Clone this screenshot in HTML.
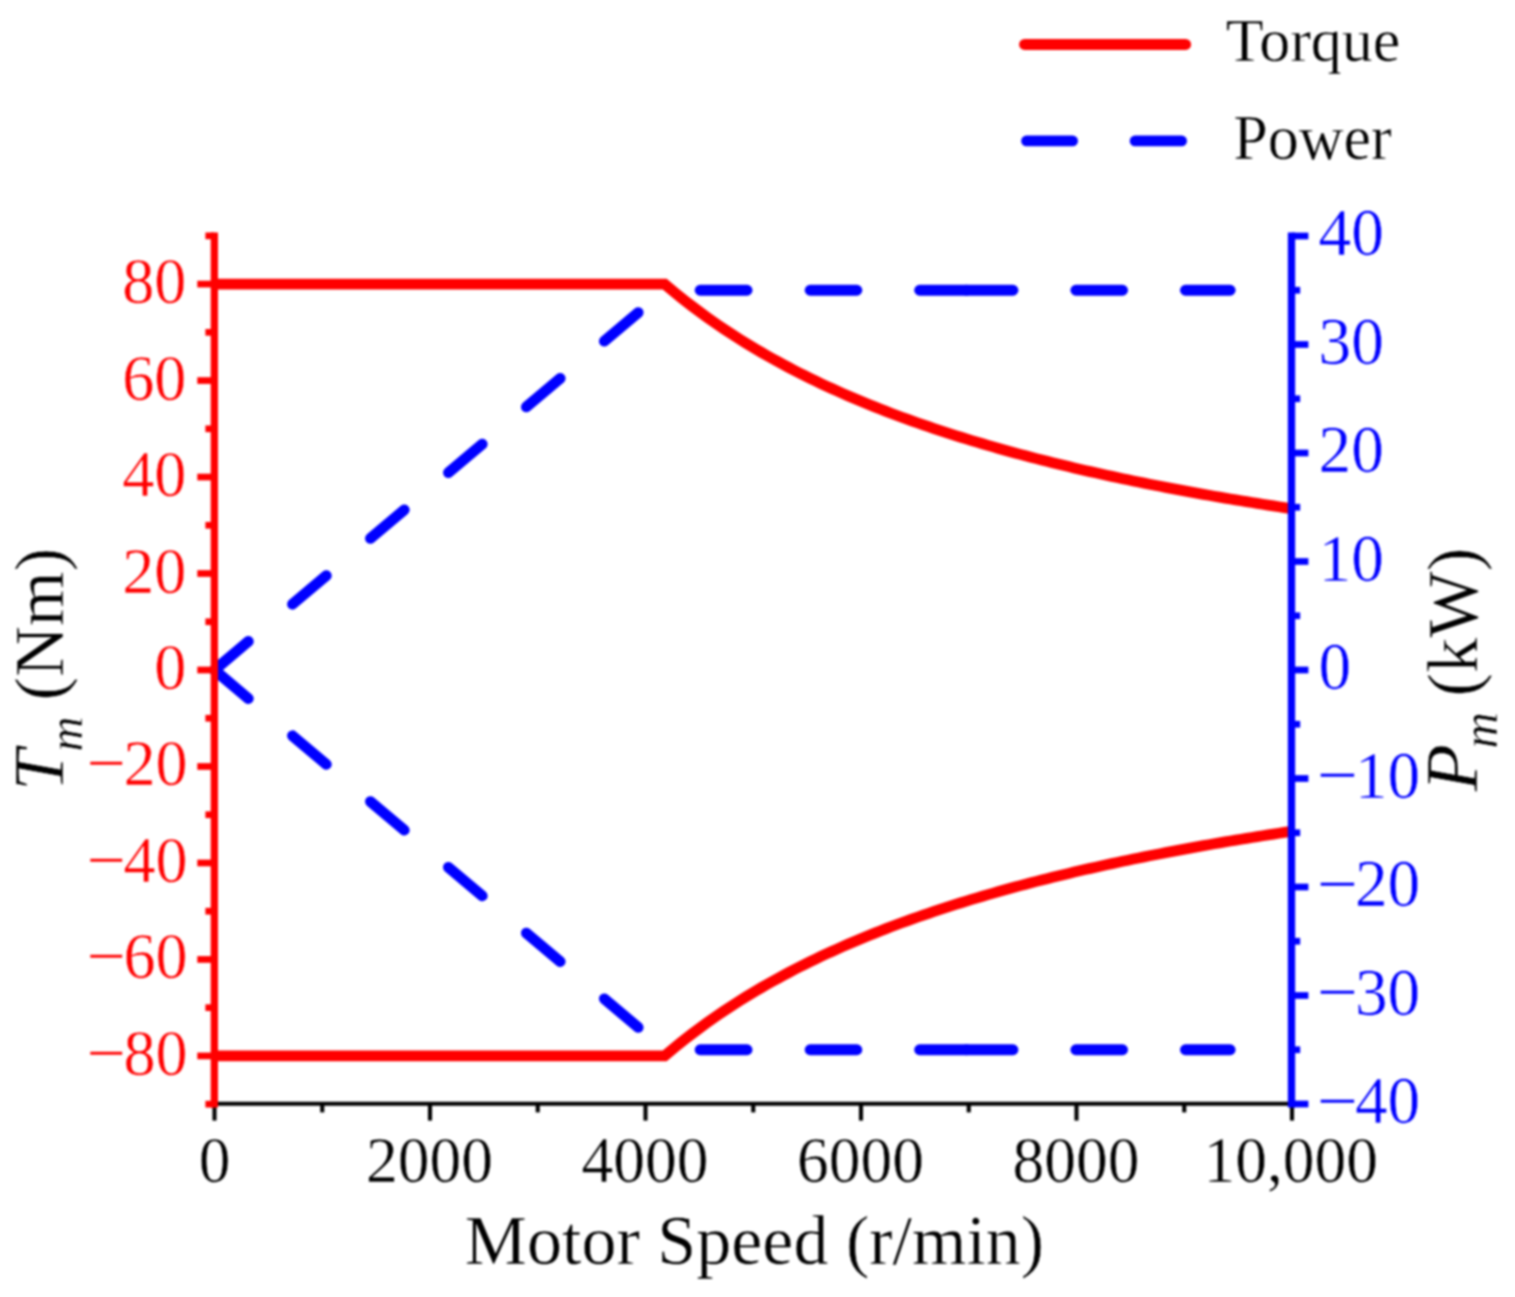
<!DOCTYPE html>
<html lang="en"><head><meta charset="utf-8"><title>Motor torque and power</title>
<style>html,body{margin:0;padding:0;background:#fff}svg{display:block;filter:blur(0.8px)}text{font-family:"Liberation Serif","Times New Roman",serif;stroke:#fff;stroke-width:0.5px;stroke-linejoin:round}</style></head><body>
<svg width="1515" height="1297" viewBox="0 0 1515 1297">
<rect width="1515" height="1297" fill="#fff"/>
<g>
<g stroke="#0000ff" stroke-width="10.8" stroke-linecap="round" fill="none">
<line x1="214.5" y1="670" x2="248.36" y2="641.44"/>
<line x1="292.47" y1="604.23" x2="326.33" y2="575.67"/>
<line x1="370.43" y1="538.46" x2="404.29" y2="509.9"/>
<line x1="448.4" y1="472.7" x2="482.26" y2="444.13"/>
<line x1="526.36" y1="406.93" x2="560.22" y2="378.36"/>
<line x1="604.33" y1="341.16" x2="638.19" y2="312.6"/>
<line x1="700.1" y1="290.25" x2="747.1" y2="290.25"/>
<line x1="810.1" y1="290.25" x2="856.9" y2="290.25"/>
<line x1="919.6" y1="290.25" x2="966.6" y2="290.25"/>
<line x1="966.2" y1="290.25" x2="1013" y2="290.25"/>
<line x1="1075.8" y1="290.25" x2="1122.6" y2="290.25"/>
<line x1="1185.4" y1="290.25" x2="1230.2" y2="290.25"/>
<line x1="214.5" y1="670" x2="248.36" y2="698.56"/>
<line x1="292.47" y1="735.77" x2="326.33" y2="764.33"/>
<line x1="370.43" y1="801.54" x2="404.29" y2="830.1"/>
<line x1="448.4" y1="867.3" x2="482.26" y2="895.87"/>
<line x1="526.36" y1="933.07" x2="560.22" y2="961.64"/>
<line x1="604.33" y1="998.84" x2="638.19" y2="1027.4"/>
<line x1="700.1" y1="1049.75" x2="747.1" y2="1049.75"/>
<line x1="810.1" y1="1049.75" x2="856.9" y2="1049.75"/>
<line x1="919.6" y1="1049.75" x2="966.6" y2="1049.75"/>
<line x1="966.2" y1="1049.75" x2="1013" y2="1049.75"/>
<line x1="1075.8" y1="1049.75" x2="1122.6" y2="1049.75"/>
<line x1="1185.4" y1="1049.75" x2="1230.2" y2="1049.75"/>
</g>
<polyline fill="none" stroke="#ff0000" stroke-width="10.8" stroke-linejoin="miter" points="214.5,284.08 664.68,284.08 670.07,288.64 675.45,293.1 680.84,297.46 686.23,301.71 691.62,305.87 697,309.93 702.39,313.91 707.78,317.8 713.17,321.6 718.55,325.33 723.94,328.97 729.33,332.54 734.72,336.04 740.1,339.46 745.49,342.81 750.88,346.1 756.27,349.32 761.65,352.48 767.04,355.57 772.43,358.61 777.82,361.59 783.2,364.51 788.59,367.38 793.98,370.19 799.37,372.95 804.75,375.66 810.14,378.33 815.53,380.94 820.92,383.51 826.3,386.03 831.69,388.51 837.08,390.95 842.47,393.34 847.85,395.69 853.24,398.01 858.63,400.28 864.02,402.52 869.4,404.72 874.79,406.88 880.18,409.01 885.57,411.11 890.95,413.17 896.34,415.2 901.73,417.2 907.12,419.16 912.5,421.1 917.89,423.01 923.28,424.88 928.67,426.73 934.05,428.55 939.44,430.35 944.83,432.12 950.22,433.86 955.6,435.58 960.99,437.27 966.38,438.93 971.77,440.58 977.15,442.2 982.54,443.8 987.93,445.37 993.32,446.93 998.7,448.46 1004.09,449.97 1009.48,451.46 1014.87,452.93 1020.25,454.38 1025.64,455.82 1031.03,457.23 1036.42,458.62 1041.8,460 1047.19,461.36 1052.58,462.7 1057.97,464.02 1063.35,465.33 1068.74,466.62 1074.13,467.9 1079.52,469.16 1084.9,470.4 1090.29,471.63 1095.68,472.84 1101.07,474.04 1106.45,475.22 1111.84,476.39 1117.23,477.55 1122.62,478.69 1128,479.82 1133.39,480.93 1138.78,482.03 1144.17,483.12 1149.55,484.2 1154.94,485.26 1160.33,486.32 1165.72,487.36 1171.1,488.39 1176.49,489.4 1181.88,490.41 1187.27,491.4 1192.65,492.39 1198.04,493.36 1203.43,494.32 1208.82,495.27 1214.2,496.22 1219.59,497.15 1224.98,498.07 1230.37,498.98 1235.75,499.88 1241.14,500.78 1246.53,501.66 1251.92,502.53 1257.3,503.4 1262.69,504.25 1268.08,505.1 1273.47,505.94 1278.85,506.77 1284.24,507.59 1289.63,508.41 1292,508.76"/>
<polyline fill="none" stroke="#ff0000" stroke-width="10.8" stroke-linejoin="miter" points="214.5,1055.92 664.68,1055.92 670.07,1051.36 675.45,1046.9 680.84,1042.54 686.23,1038.29 691.62,1034.13 697,1030.07 702.39,1026.09 707.78,1022.2 713.17,1018.4 718.55,1014.67 723.94,1011.03 729.33,1007.46 734.72,1003.96 740.1,1000.54 745.49,997.19 750.88,993.9 756.27,990.68 761.65,987.52 767.04,984.43 772.43,981.39 777.82,978.41 783.2,975.49 788.59,972.62 793.98,969.81 799.37,967.05 804.75,964.34 810.14,961.67 815.53,959.06 820.92,956.49 826.3,953.97 831.69,951.49 837.08,949.05 842.47,946.66 847.85,944.31 853.24,941.99 858.63,939.72 864.02,937.48 869.4,935.28 874.79,933.12 880.18,930.99 885.57,928.89 890.95,926.83 896.34,924.8 901.73,922.8 907.12,920.84 912.5,918.9 917.89,916.99 923.28,915.12 928.67,913.27 934.05,911.45 939.44,909.65 944.83,907.88 950.22,906.14 955.6,904.42 960.99,902.73 966.38,901.07 971.77,899.42 977.15,897.8 982.54,896.2 987.93,894.63 993.32,893.07 998.7,891.54 1004.09,890.03 1009.48,888.54 1014.87,887.07 1020.25,885.62 1025.64,884.18 1031.03,882.77 1036.42,881.38 1041.8,880 1047.19,878.64 1052.58,877.3 1057.97,875.98 1063.35,874.67 1068.74,873.38 1074.13,872.1 1079.52,870.84 1084.9,869.6 1090.29,868.37 1095.68,867.16 1101.07,865.96 1106.45,864.78 1111.84,863.61 1117.23,862.45 1122.62,861.31 1128,860.18 1133.39,859.07 1138.78,857.97 1144.17,856.88 1149.55,855.8 1154.94,854.74 1160.33,853.68 1165.72,852.64 1171.1,851.61 1176.49,850.6 1181.88,849.59 1187.27,848.6 1192.65,847.61 1198.04,846.64 1203.43,845.68 1208.82,844.73 1214.2,843.78 1219.59,842.85 1224.98,841.93 1230.37,841.02 1235.75,840.12 1241.14,839.22 1246.53,838.34 1251.92,837.47 1257.3,836.6 1262.69,835.75 1268.08,834.9 1273.47,834.06 1278.85,833.23 1284.24,832.41 1289.63,831.59 1292,831.24"/>
<g stroke="#000000" stroke-width="4.1" fill="none">
<line x1="214.5" y1="1103.7" x2="1292" y2="1103.7"/>
<line x1="214.5" y1="1103.7" x2="214.5" y2="1120.6"/>
<line x1="322.25" y1="1103.7" x2="322.25" y2="1112.4"/>
<line x1="430" y1="1103.7" x2="430" y2="1120.6"/>
<line x1="537.75" y1="1103.7" x2="537.75" y2="1112.4"/>
<line x1="645.5" y1="1103.7" x2="645.5" y2="1120.6"/>
<line x1="753.25" y1="1103.7" x2="753.25" y2="1112.4"/>
<line x1="861" y1="1103.7" x2="861" y2="1120.6"/>
<line x1="968.75" y1="1103.7" x2="968.75" y2="1112.4"/>
<line x1="1076.5" y1="1103.7" x2="1076.5" y2="1120.6"/>
<line x1="1184.25" y1="1103.7" x2="1184.25" y2="1112.4"/>
<line x1="1292" y1="1103.7" x2="1292" y2="1120.6"/>
</g>
<g stroke="#ff0000" stroke-width="7.3" fill="none">
<line x1="214.35" y1="232.49" x2="214.35" y2="1107.51"/>
</g>
<g stroke="#ff0000" stroke-width="6.7" fill="none">
<line x1="205.4" y1="1104.16" x2="214.35" y2="1104.16"/>
<line x1="197.3" y1="1055.92" x2="214.35" y2="1055.92"/>
<line x1="205.4" y1="1007.68" x2="214.35" y2="1007.68"/>
<line x1="197.3" y1="959.44" x2="214.35" y2="959.44"/>
<line x1="205.4" y1="911.2" x2="214.35" y2="911.2"/>
<line x1="197.3" y1="862.96" x2="214.35" y2="862.96"/>
<line x1="205.4" y1="814.72" x2="214.35" y2="814.72"/>
<line x1="197.3" y1="766.48" x2="214.35" y2="766.48"/>
<line x1="205.4" y1="718.24" x2="214.35" y2="718.24"/>
<line x1="197.3" y1="670" x2="214.35" y2="670"/>
<line x1="205.4" y1="621.76" x2="214.35" y2="621.76"/>
<line x1="197.3" y1="573.52" x2="214.35" y2="573.52"/>
<line x1="205.4" y1="525.28" x2="214.35" y2="525.28"/>
<line x1="197.3" y1="477.04" x2="214.35" y2="477.04"/>
<line x1="205.4" y1="428.8" x2="214.35" y2="428.8"/>
<line x1="197.3" y1="380.56" x2="214.35" y2="380.56"/>
<line x1="205.4" y1="332.32" x2="214.35" y2="332.32"/>
<line x1="197.3" y1="284.08" x2="214.35" y2="284.08"/>
<line x1="205.4" y1="235.84" x2="214.35" y2="235.84"/>
</g>
<g stroke="#0000ff" stroke-width="7.3" fill="none">
<line x1="1291.5" y1="232.49" x2="1291.5" y2="1107.51"/>
</g>
<g stroke="#0000ff" stroke-width="6.7" fill="none">
<line x1="1291.5" y1="1104" x2="1308.4" y2="1104"/>
<line x1="1291.5" y1="1049.75" x2="1300.2" y2="1049.75"/>
<line x1="1291.5" y1="995.5" x2="1308.4" y2="995.5"/>
<line x1="1291.5" y1="941.25" x2="1300.2" y2="941.25"/>
<line x1="1291.5" y1="887" x2="1308.4" y2="887"/>
<line x1="1291.5" y1="832.75" x2="1300.2" y2="832.75"/>
<line x1="1291.5" y1="778.5" x2="1308.4" y2="778.5"/>
<line x1="1291.5" y1="724.25" x2="1300.2" y2="724.25"/>
<line x1="1291.5" y1="670" x2="1308.4" y2="670"/>
<line x1="1291.5" y1="615.75" x2="1300.2" y2="615.75"/>
<line x1="1291.5" y1="561.5" x2="1308.4" y2="561.5"/>
<line x1="1291.5" y1="507.25" x2="1300.2" y2="507.25"/>
<line x1="1291.5" y1="453" x2="1308.4" y2="453"/>
<line x1="1291.5" y1="398.75" x2="1300.2" y2="398.75"/>
<line x1="1291.5" y1="344.5" x2="1308.4" y2="344.5"/>
<line x1="1291.5" y1="290.25" x2="1300.2" y2="290.25"/>
<line x1="1291.5" y1="236" x2="1308.4" y2="236"/>
</g>
<g font-size="64.2" fill="#ff0000" text-anchor="end">
<text transform="translate(187.6,1074.92) scale(1,1.03)"><tspan font-size="69.5" letter-spacing="-2.2" dy="1.6">−</tspan><tspan dy="-1.6">80</tspan></text>
<text transform="translate(187.6,978.44) scale(1,1.03)"><tspan font-size="69.5" letter-spacing="-2.2" dy="1.6">−</tspan><tspan dy="-1.6">60</tspan></text>
<text transform="translate(187.6,881.96) scale(1,1.03)"><tspan font-size="69.5" letter-spacing="-2.2" dy="1.6">−</tspan><tspan dy="-1.6">40</tspan></text>
<text transform="translate(187.6,785.48) scale(1,1.03)"><tspan font-size="69.5" letter-spacing="-2.2" dy="1.6">−</tspan><tspan dy="-1.6">20</tspan></text>
<text transform="translate(186.4,689) scale(1,1.03)">0</text>
<text transform="translate(186.4,592.52) scale(1,1.03)">20</text>
<text transform="translate(186.4,496.04) scale(1,1.03)">40</text>
<text transform="translate(186.4,399.56) scale(1,1.03)">60</text>
<text transform="translate(186.4,303.08) scale(1,1.03)">80</text>
</g>
<g font-size="65.3" fill="#0000ff" text-anchor="start">
<text transform="translate(1316.4,1123) scale(1,1.03)"><tspan font-size="73" letter-spacing="-2.6" dy="2.6">−</tspan><tspan dy="-2.6">40</tspan></text>
<text transform="translate(1316.4,1014.5) scale(1,1.03)"><tspan font-size="73" letter-spacing="-2.6" dy="2.6">−</tspan><tspan dy="-2.6">30</tspan></text>
<text transform="translate(1316.4,906) scale(1,1.03)"><tspan font-size="73" letter-spacing="-2.6" dy="2.6">−</tspan><tspan dy="-2.6">20</tspan></text>
<text transform="translate(1316.4,797.5) scale(1,1.03)"><tspan font-size="73" letter-spacing="-2.6" dy="2.6">−</tspan><tspan dy="-2.6">10</tspan></text>
<text transform="translate(1318.6,689) scale(1,1.03)">0</text>
<text transform="translate(1318.6,580.5) scale(1,1.03)">10</text>
<text transform="translate(1318.6,472) scale(1,1.03)">20</text>
<text transform="translate(1318.6,363.5) scale(1,1.03)">30</text>
<text transform="translate(1318.6,255) scale(1,1.03)">40</text>
</g>
<g font-size="63.5" fill="#000000" text-anchor="middle">
<text transform="translate(214.5,1181.8) scale(1,1.04)">0</text>
<text transform="translate(429.4,1181.8) scale(1,1.04)">2000</text>
<text transform="translate(644.9,1181.8) scale(1,1.04)">4000</text>
<text transform="translate(860.4,1181.8) scale(1,1.04)">6000</text>
<text transform="translate(1075.9,1181.8) scale(1,1.04)">8000</text>
<text transform="translate(1290.8,1181.8) scale(1,1.04)">10,000</text>
</g>
<text x="754.5" y="1263.5" font-size="70" text-anchor="middle" fill="#000">Motor Speed (r/min)</text>
<text transform="translate(62.8,791) rotate(-90) scale(1.03,0.98)" font-size="72.5" font-style="italic" fill="#000">T</text>
<text transform="translate(82,751.5) rotate(-90)" font-size="48.5" font-style="italic" fill="#000">m</text>
<text transform="translate(62.9,700.5) rotate(-90) scale(1,0.98)" font-size="70.5" fill="#000">(Nm)</text>
<text transform="translate(1477.3,791.6) rotate(-90) scale(1.06,1)" font-size="73.5" font-style="italic" fill="#000">P</text>
<text transform="translate(1497,748.5) rotate(-90)" font-size="50.5" font-style="italic" fill="#000">m</text>
<text transform="translate(1477.3,696.5) rotate(-90) scale(1,1.03)" font-size="70.5" fill="#000">(kW)</text>
<line x1="1024.6" y1="44.4" x2="1185.6" y2="44.4" stroke="#ff0000" stroke-width="11" stroke-linecap="round"/>
<g stroke="#0000ff" stroke-width="10.6" stroke-linecap="round">
<line x1="1026.4" y1="140.9" x2="1072.7" y2="140.9"/><line x1="1135" y1="140.9" x2="1181.7" y2="140.9"/></g>
<text transform="translate(1313,61.2) scale(1,1)" font-size="62" text-anchor="middle" fill="#000">Torque</text>
<text transform="translate(1312.5,159) scale(1,1.005)" font-size="62" text-anchor="middle" fill="#000">Power</text>
</g>
</svg></body></html>
